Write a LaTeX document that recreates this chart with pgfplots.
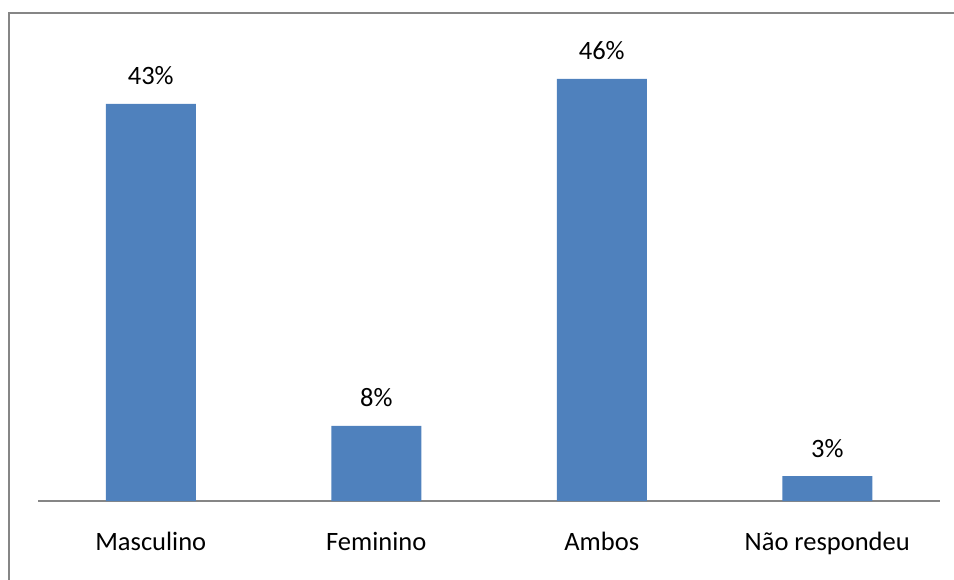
\documentclass[border=0pt]{standalone}
\usepackage{pgfplots}
\pgfplotsset{compat=1.18}
\usepackage{fontspec}
\setmainfont{Carlito}
\definecolor{barblue}{HTML}{4F81BD}
\definecolor{framegray}{HTML}{868686}
\begin{document}
\begin{tikzpicture}[x=1pt,y=1pt]
  \path[use as bounding box] (0,0) rectangle (954,579);
  \draw[framegray, line width=2.2pt] (9,-5) -- (9,566) -- (960,566);
  \begin{axis}[
      at={(38pt,78pt)}, anchor=south west,
      scale only axis,
      width=902pt, height=459pt,
      xmin=-0.5, xmax=3.5,
      ymin=0, ymax=50,
      axis y line=none,
      axis x line*=bottom,
      x axis line style={framegray, line width=1.6pt, -},
      xtick=data,
      xticklabels={Masculino, Feminino, Ambos, Não respondeu},
      major tick length=0pt,
      xticklabel style={anchor=base, yshift=-49pt, font=\fontsize{26.5}{32}\selectfont},
      clip=false,
      point meta=explicit symbolic,
      nodes near coords,
      every node near coord/.append style={anchor=base, yshift=19pt, font=\fontsize{26.5}{32}\selectfont, text=black},
    ]
    \addplot[ybar, bar width=90pt, fill=barblue, draw=none]
      coordinates {
        (0,43.25) [43\%]
        (1,8.17) [8\%]
        (2,45.97) [46\%]
        (3,2.7) [3\%]
      };
  \end{axis}
\end{tikzpicture}
\end{document}
